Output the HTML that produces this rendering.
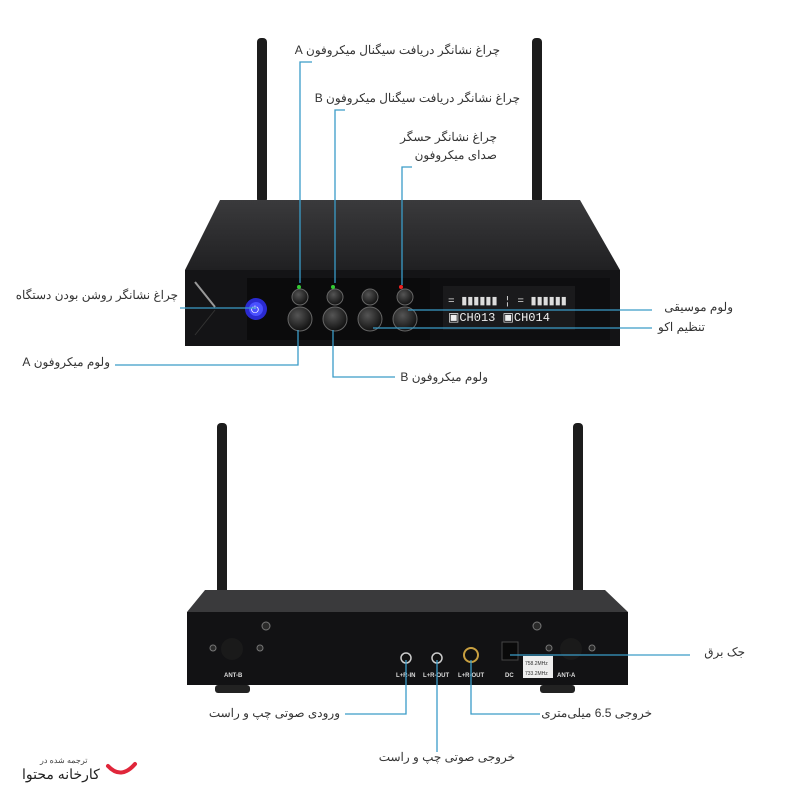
<!DOCTYPE html>
<html><head><meta charset="utf-8"><style>
body{margin:0;width:800px;height:800px;background:#fff;position:relative;overflow:hidden;font-family:"Liberation Sans","Noto Sans CJK SC",sans-serif}
.t{position:absolute;direction:rtl;font-size:12px;color:#333;white-space:nowrap;line-height:14px}
svg{position:absolute;left:0;top:0}
</style></head><body>
<svg width="800" height="800" viewBox="0 0 800 800">
<defs>
<linearGradient id="tf" x1="0" y1="0" x2="0" y2="1"><stop offset="0" stop-color="#3a3a3c"/><stop offset="1" stop-color="#202022"/></linearGradient>
<radialGradient id="kn" cx="0.4" cy="0.35" r="0.7"><stop offset="0" stop-color="#555"/><stop offset="1" stop-color="#0c0c0c"/></radialGradient>
</defs>
<!-- top device antennas -->
<rect x="257" y="38" width="10" height="165" rx="4" fill="#1c1c1c"/>
<rect x="532" y="38" width="10" height="165" rx="4" fill="#1c1c1c"/>
<!-- top face -->
<polygon points="220,200 580,200 620,270 185,270" fill="url(#tf)"/>
<!-- front -->
<rect x="185" y="270" width="435" height="76" fill="#141416"/>
<rect x="247" y="278" width="183" height="62" fill="#0b0b0c"/>
<rect x="430" y="278" width="180" height="62" fill="#0e0e10"/>
<line x1="195" y1="282" x2="215" y2="307" stroke="#999" stroke-width="2"/>
<line x1="195" y1="335" x2="215" y2="310" stroke="#333" stroke-width="1"/>
<rect x="443" y="286" width="132" height="44" fill="#1a1a1c"/>
<text x="448" y="304" font-size="11" fill="#ddd" font-family="Liberation Mono">= ▮▮▮▮▮▮ ¦ = ▮▮▮▮▮▮</text>
<text x="448" y="321" font-size="12" fill="#eee" font-family="Liberation Mono">▣CH013 ▣CH014</text>
<!-- power -->
<circle cx="256" cy="309" r="11" fill="#2a2ad0"/>
<circle cx="256" cy="309" r="7" fill="#4a50ff"/>
<text x="251" y="313" font-size="10" fill="#fff">⏻</text>
<!-- knobs -->
<g fill="url(#kn)" stroke="#666" stroke-width="1">
<circle cx="300" cy="297" r="8"/><circle cx="335" cy="297" r="8"/><circle cx="370" cy="297" r="8"/><circle cx="405" cy="297" r="8"/>
<circle cx="300" cy="319" r="12"/><circle cx="335" cy="319" r="12"/><circle cx="370" cy="319" r="12"/><circle cx="405" cy="319" r="12"/>
</g>
<circle cx="299" cy="287" r="2" fill="#3c3"/><circle cx="333" cy="287" r="2" fill="#3c3"/><circle cx="401" cy="287" r="2" fill="#e22"/>
<!-- bottom device -->
<rect x="217" y="423" width="10" height="230" rx="4" fill="#1c1c1c"/>
<rect x="573" y="423" width="10" height="230" rx="4" fill="#1c1c1c"/>
<rect x="215" y="685" width="35" height="8" rx="3" fill="#222"/>
<rect x="540" y="685" width="35" height="8" rx="3" fill="#222"/>
<polygon points="205,590 605,590 628,612 187,612" fill="#3a3a3c"/>
<rect x="187" y="612" width="441" height="73" fill="#121214"/>
<g fill="#2a2a2a" stroke="#777"><circle cx="266" cy="626" r="4"/><circle cx="537" cy="626" r="4"/><circle cx="213" cy="648" r="3"/><circle cx="260" cy="648" r="3"/><circle cx="549" cy="648" r="3"/><circle cx="592" cy="648" r="3"/></g>
<circle cx="232" cy="649" r="11" fill="#1a1a1a"/><circle cx="571" cy="649" r="11" fill="#1a1a1a"/>
<circle cx="406" cy="658" r="5" fill="#111" stroke="#ccc" stroke-width="1.5"/>
<circle cx="437" cy="658" r="5" fill="#111" stroke="#ccc" stroke-width="1.5"/>
<circle cx="471" cy="655" r="7" fill="#111" stroke="#c9a040" stroke-width="2"/>
<rect x="502" y="642" width="16" height="18" fill="#0a0a0a" stroke="#444"/>
<rect x="523" y="656" width="30" height="22" fill="#eee"/>
<text x="525" y="665" font-size="5" fill="#333">758.2MHz</text><text x="525" y="675" font-size="5" fill="#333">733.2MHz</text>
<g font-size="6" fill="#ddd" font-weight="bold"><text x="224" y="677">ANT-B</text><text x="396" y="677">L+R-IN</text><text x="423" y="677">L+R-OUT</text><text x="458" y="677">L+R-OUT</text><text x="505" y="677">DC</text><text x="557" y="677">ANT-A</text></g>
<!-- connectors -->
<g stroke="#3a9cc8" stroke-width="1.3" fill="none">
<polyline points="312,62 300,62 300,283"/>
<polyline points="345,110 335,110 335,283"/>
<polyline points="412,167 402,167 402,285"/>
<line x1="180" y1="308" x2="256" y2="308"/>
<polyline points="115,365 298,365 298,330"/>
<polyline points="395,377 333,377 333,330"/>
<line x1="408" y1="310" x2="652" y2="310"/>
<line x1="373" y1="328" x2="652" y2="328"/>
<line x1="510" y1="655" x2="690" y2="655"/>
<polyline points="345,714 406,714 406,660"/>
<polyline points="540,714 471,714 471,660"/>
<polyline points="437,660 437,752"/>
</g>
<path d="M108,766 Q121,780 135,764" stroke="#e0263a" stroke-width="4" fill="none" stroke-linecap="round"/>
</svg>
<div class="t" style="right:300px;top:43px">چراغ نشانگر دریافت سیگنال میکروفون A</div>
<div class="t" style="right:280px;top:91px">چراغ نشانگر دریافت سیگنال میکروفون B</div>
<div class="t" style="right:303px;top:130px">چراغ نشانگر حسگر</div>
<div class="t" style="right:303px;top:148px">صدای میکروفون</div>
<div class="t" style="right:622px;top:288px">چراغ نشانگر روشن بودن دستگاه</div>
<div class="t" style="right:690px;top:355px">ولوم میکروفون A</div>
<div class="t" style="right:312px;top:370px">ولوم میکروفون B</div>
<div class="t" style="right:67px;top:300px">ولوم موسیقی</div>
<div class="t" style="right:95px;top:320px">تنظیم اکو</div>
<div class="t" style="right:55px;top:645px">جک برق</div>
<div class="t" style="right:460px;top:706px">ورودی  صوتی چپ و راست</div>
<div class="t" style="right:148px;top:706px">خروجی 6.5 میلی‌متری</div>
<div class="t" style="right:285px;top:750px">خروجی صوتی چپ و راست</div>
<div class="t" style="left:40px;top:756px;font-size:8px;line-height:9px;color:#444">ترجمه شده در</div>
<div class="t" style="left:22px;top:766px;font-size:14px;line-height:16px;color:#222">کارخانه محتوا</div>
</body></html>
